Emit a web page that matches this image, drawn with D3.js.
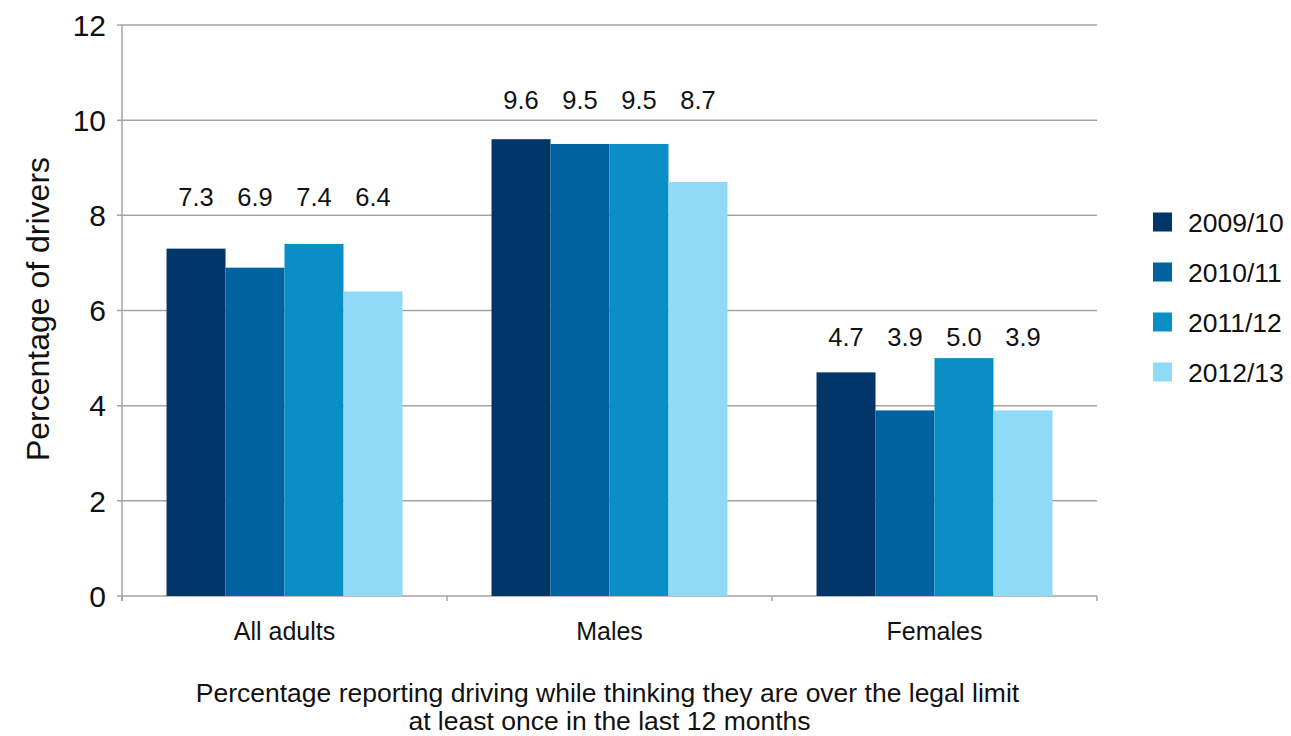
<!DOCTYPE html>
<html><head><meta charset="utf-8">
<script src="https://cdn.jsdelivr.net/npm/d3@7"></script>
<style>body{margin:0;background:#fff}svg{display:block}text{font-family:"Liberation Sans",Arial,Helvetica,sans-serif;fill:#111}</style>
</head><body><svg id="c" width="1291" height="736"></svg>
<script>
const categories = ["All adults", "Males", "Females"];
const seriesNames = ["2009/10", "2010/11", "2011/12", "2012/13"];
const s2009 = [7.3, 9.6, 4.7];
const s2010 = [6.9, 9.5, 3.9];
const s2011 = [7.4, 9.5, 5.0];
const s2012 = [6.4, 8.7, 3.9];
const labelLevels = [8.38, 10.42, 5.44];
const yTicks = [0, 2, 4, 6, 8, 10, 12];
const colors = ["#003668", "#0063a0", "#0a8ec6", "#90d9f7"];
const series = [s2009, s2010, s2011, s2012];

const svg = d3.select("#c");
const L = 122, R = 1097, T = 25, B = 596;
const x = d3.scaleBand().domain(categories).range([L, R]).paddingInner(0).paddingOuter(0);
const y = d3.scaleLinear().domain([0, 12]).range([B, T]);
const gw = x.bandwidth() * 0.726;
const xs = d3.scaleBand().domain(seriesNames).range([0, gw]);

// gridlines
svg.append("g").selectAll("line").data(yTicks).join("line")
  .attr("x1", L - 5).attr("x2", R).attr("y1", d => y(d)).attr("y2", d => y(d))
  .attr("stroke", "#a3a3a3").attr("stroke-width", 1.5);
// y axis line
svg.append("line").attr("x1", L).attr("x2", L).attr("y1", T).attr("y2", B + 5)
  .attr("stroke", "#a3a3a3").attr("stroke-width", 1.5);
// x ticks at boundaries
const bounds = categories.map(c => x(c)).concat([R]);
svg.append("g").selectAll("line").data(bounds).join("line")
  .attr("x1", d => d).attr("x2", d => d).attr("y1", B).attr("y2", B + 5)
  .attr("stroke", "#a3a3a3").attr("stroke-width", 1.5);
// y tick labels
svg.append("g").selectAll("text").data(yTicks).join("text")
  .attr("x", L - 16).attr("y", d => y(d)).attr("dy", "0.36em")
  .attr("text-anchor", "end").attr("font-size", 30).text(d => d);

// bars
categories.forEach((c, i) => {
  const x0 = x(c) + (x.bandwidth() - gw) / 2;
  series.forEach((s, j) => {
    svg.append("rect")
      .attr("x", x0 + xs(seriesNames[j])).attr("width", xs.bandwidth())
      .attr("y", y(s[i])).attr("height", B - y(s[i]))
      .attr("fill", colors[j]);
    svg.append("text")
      .attr("x", x0 + xs(seriesNames[j]) + xs.bandwidth() / 2)
      .attr("y", y(labelLevels[i])).attr("dy", "0.36em")
      .attr("text-anchor", "middle").attr("font-size", 25.5)
      .text(s[i].toFixed(1));
  });
  svg.append("text").attr("x", x(c) + x.bandwidth() / 2).attr("y", 631).attr("dy", "0.36em")
    .attr("text-anchor", "middle").attr("font-size", 25).text(c);
});

// y title
svg.append("text").attr("transform", "translate(37,309) rotate(-90)")
  .attr("dy", "0.36em").attr("text-anchor", "middle").attr("font-size", 32).text("Percentage of drivers");

// x title
svg.append("text").attr("x", (L + R) / 2 - 2).attr("y", 692).attr("dy", "0.36em")
  .attr("text-anchor", "middle").attr("font-size", 26.5)
  .text("Percentage reporting driving while thinking they are over the legal limit");
svg.append("text").attr("x", (L + R) / 2).attr("y", 720.5).attr("dy", "0.36em")
  .attr("text-anchor", "middle").attr("font-size", 26.5)
  .text("at least once in the last 12 months");

// legend
const lg = svg.append("g").selectAll("g").data(seriesNames).join("g")
  .attr("transform", (d, i) => "translate(1153," + (222 + i * 50) + ")");
lg.append("rect").attr("x", 0).attr("y", -9.5).attr("width", 19).attr("height", 19).attr("fill", (d, i) => colors[i]);
lg.append("text").attr("x", 35).attr("dy", "0.36em").attr("font-size", 26.5).text(d => d);
</script></body></html>
